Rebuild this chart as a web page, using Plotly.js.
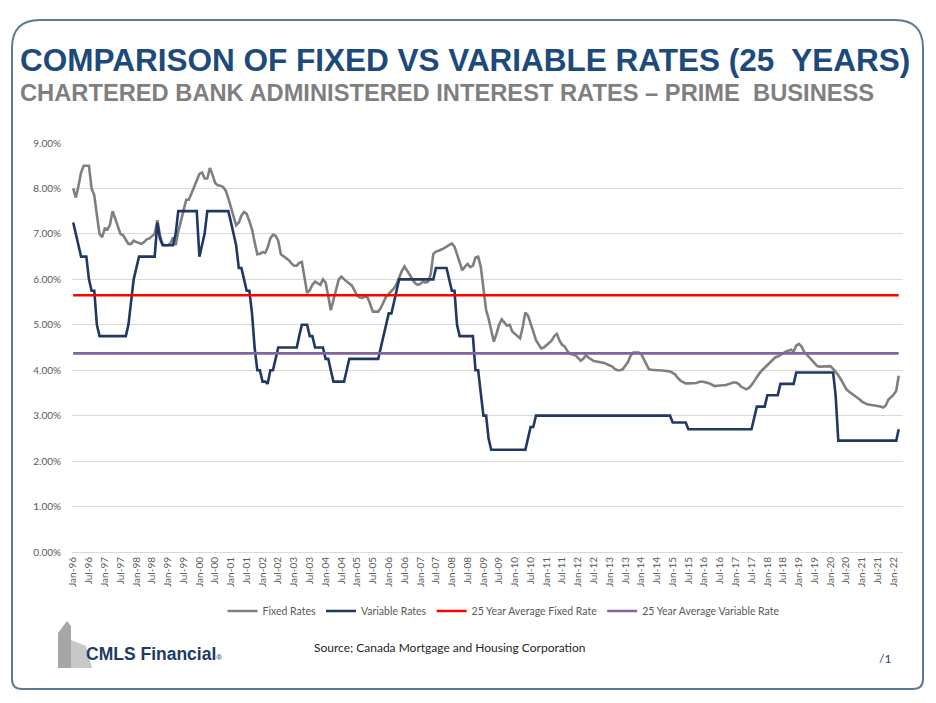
<!DOCTYPE html>
<html>
<head>
<meta charset="utf-8">
<script src="https://cdn.plot.ly/plotly-3.0.1.min.js"></script>
<style>
  html, body { margin: 0; padding: 0; background: #ffffff; }
  #chart { width: 936px; height: 703px; }
</style>
</head>
<body>
<div id="chart"></div>
<script>
// ---------------- DATA ----------------
const startYear = 1996;

const fixedRates = [
  8.0, 7.8, 8.05, 8.35, 8.5, 8.5, 8.5, 8.0, 7.85, 7.42, 7.0, 6.93,
  7.12, 7.1, 7.2, 7.5, 7.35, 7.15, 7.0, 6.97, 6.88, 6.78, 6.78, 6.85,
  6.82, 6.79, 6.78, 6.82, 6.88, 6.9, 6.95, 7.0, 7.3, 6.97, 6.77, 6.75,
  6.75, 6.8, 6.92, 6.75, 7.05, 7.3, 7.5, 7.75, 7.75, 7.9, 8.05, 8.2,
  8.32, 8.35, 8.22, 8.22, 8.45, 8.3, 8.12, 8.07, 8.06, 8.03, 7.95, 7.78,
  7.56, 7.4, 7.19, 7.25, 7.4, 7.48, 7.44, 7.28, 7.1, 6.82, 6.55, 6.56,
  6.6, 6.58, 6.7, 6.9, 6.98, 6.96, 6.85, 6.55, 6.5, 6.46, 6.42, 6.35,
  6.3, 6.3, 6.36, 6.38, 6.05, 5.7, 5.76, 5.88, 5.95, 5.92, 5.88, 6.0,
  5.93, 5.62, 5.32, 5.55, 5.76, 6.0, 6.06, 6.0, 5.95, 5.91, 5.86, 5.75,
  5.64, 5.6, 5.59, 5.62, 5.6, 5.45, 5.29, 5.29, 5.29, 5.37, 5.52, 5.62,
  5.68, 5.74, 5.8, 5.9, 6.06, 6.18, 6.28, 6.2, 6.1, 6.0, 5.92, 5.88,
  5.9, 5.95, 5.93, 5.95, 6.1, 6.56, 6.61, 6.63, 6.65, 6.68, 6.72, 6.75,
  6.79, 6.72, 6.55, 6.38, 6.2, 6.28, 6.34, 6.27, 6.3, 6.48, 6.5, 6.28,
  5.76, 5.32, 5.14, 4.85, 4.63, 4.8, 5.0, 5.12, 5.05, 4.98, 5.0, 4.85,
  4.8, 4.75, 4.7, 4.95, 5.27, 5.2, 5.05, 4.85, 4.66, 4.57, 4.48, 4.5,
  4.55, 4.6, 4.65, 4.75, 4.8, 4.65, 4.56, 4.52, 4.42, 4.36, 4.35, 4.33,
  4.27, 4.21, 4.25, 4.33, 4.28, 4.24, 4.2, 4.19, 4.18, 4.17, 4.16, 4.13,
  4.1, 4.08, 4.03, 4.0, 4.0, 4.02, 4.1, 4.18, 4.32, 4.39, 4.39, 4.39,
  4.36, 4.25, 4.12, 4.02, 4.01, 4.0, 4.0, 4.0, 4.0, 3.99, 3.98, 3.97,
  3.94, 3.9, 3.83, 3.77, 3.74, 3.71, 3.71, 3.71, 3.71, 3.72, 3.74, 3.75,
  3.74, 3.73, 3.71, 3.68, 3.65, 3.66, 3.67, 3.67, 3.67, 3.69, 3.71, 3.73,
  3.73, 3.7, 3.64, 3.6, 3.58, 3.61, 3.67, 3.76, 3.86, 3.93, 4.0, 4.06,
  4.12, 4.18, 4.24, 4.28, 4.3, 4.34, 4.38, 4.41, 4.43, 4.45, 4.41, 4.54,
  4.58, 4.52, 4.41, 4.35, 4.27, 4.21, 4.15, 4.09, 4.08, 4.08, 4.08, 4.08,
  4.09, 4.03, 3.97, 3.89, 3.8, 3.7, 3.59, 3.53, 3.49, 3.45, 3.41, 3.36,
  3.31, 3.27, 3.25, 3.24, 3.23, 3.23, 3.22, 3.2, 3.18, 3.22, 3.35, 3.4,
  3.46, 3.55, 3.88
];

const variableRates = [
  7.25, 7.0, 6.75, 6.5, 6.5, 6.5, 6.0, 5.75, 5.75, 5.0, 4.75, 4.75,
  4.75, 4.75, 4.75, 4.75, 4.75, 4.75, 4.75, 4.75, 4.75, 5.0, 5.5, 6.0,
  6.25, 6.5, 6.5, 6.5, 6.5, 6.5, 6.5, 6.5, 7.25, 6.9, 6.75, 6.75,
  6.75, 6.75, 6.75, 7.0, 7.5, 7.5, 7.5, 7.5, 7.5, 7.5, 7.5, 7.5,
  6.5, 6.75, 7.0, 7.5, 7.5, 7.5, 7.5, 7.5, 7.5, 7.5, 7.5, 7.5,
  7.25, 7.0, 6.75, 6.25, 6.25, 6.0, 5.75, 5.75, 5.25, 4.5, 4.0, 4.0,
  3.75, 3.75, 3.7, 4.0, 4.0, 4.25, 4.5, 4.5, 4.5, 4.5, 4.5, 4.5,
  4.5, 4.5, 4.75, 5.0, 5.0, 5.0, 4.75, 4.75, 4.5, 4.5, 4.5, 4.5,
  4.25, 4.25, 4.0, 3.75, 3.75, 3.75, 3.75, 3.75, 4.0, 4.25, 4.25, 4.25,
  4.25, 4.25, 4.25, 4.25, 4.25, 4.25, 4.25, 4.25, 4.25, 4.5, 4.75, 5.0,
  5.25, 5.25, 5.5, 5.75, 6.0, 6.0, 6.0, 6.0, 6.0, 6.0, 6.0, 6.0,
  6.0, 6.0, 6.0, 6.0, 6.0, 6.0, 6.25, 6.25, 6.25, 6.25, 6.25, 6.0,
  5.75, 5.75, 5.0, 4.75, 4.75, 4.75, 4.75, 4.75, 4.75, 4.0, 4.0, 3.5,
  3.0, 3.0, 2.5, 2.25, 2.25, 2.25, 2.25, 2.25, 2.25, 2.25, 2.25, 2.25,
  2.25, 2.25, 2.25, 2.25, 2.25, 2.5, 2.75, 2.75, 3.0, 3.0, 3.0, 3.0,
  3.0, 3.0, 3.0, 3.0, 3.0, 3.0, 3.0, 3.0, 3.0, 3.0, 3.0, 3.0,
  3.0, 3.0, 3.0, 3.0, 3.0, 3.0, 3.0, 3.0, 3.0, 3.0, 3.0, 3.0,
  3.0, 3.0, 3.0, 3.0, 3.0, 3.0, 3.0, 3.0, 3.0, 3.0, 3.0, 3.0,
  3.0, 3.0, 3.0, 3.0, 3.0, 3.0, 3.0, 3.0, 3.0, 3.0, 3.0, 3.0,
  2.85, 2.85, 2.85, 2.85, 2.85, 2.85, 2.7, 2.7, 2.7, 2.7, 2.7, 2.7,
  2.7, 2.7, 2.7, 2.7, 2.7, 2.7, 2.7, 2.7, 2.7, 2.7, 2.7, 2.7,
  2.7, 2.7, 2.7, 2.7, 2.7, 2.7, 2.7, 2.95, 3.2, 3.2, 3.2, 3.2,
  3.45, 3.45, 3.45, 3.45, 3.45, 3.7, 3.7, 3.7, 3.7, 3.7, 3.7, 3.95,
  3.95, 3.95, 3.95, 3.95, 3.95, 3.95, 3.95, 3.95, 3.95, 3.95, 3.95, 3.95,
  3.95, 3.95, 3.45, 2.45, 2.45, 2.45, 2.45, 2.45, 2.45, 2.45, 2.45, 2.45,
  2.45, 2.45, 2.45, 2.45, 2.45, 2.45, 2.45, 2.45, 2.45, 2.45, 2.45, 2.45,
  2.45, 2.45, 2.7
];

const avgFixedRate = 5.65;
const avgVariableRate = 4.37;

const seriesNames = ["Fixed Rates", "Variable Rates", "25 Year Average Fixed Rate", "25 Year Average Variable Rate"];
const yTickValues = [0, 1, 2, 3, 4, 5, 6, 7, 8, 9];
const yTickLabels = ["0.00%", "1.00%", "2.00%", "3.00%", "4.00%", "5.00%", "6.00%", "7.00%", "8.00%", "9.00%"];

// month categories (first of each month from Jan-1996)
const months = fixedRates.map((_, i) => {
  const y = startYear + Math.floor(i / 12);
  const m = (i % 12) + 1;
  return y + "-" + String(m).padStart(2, "0") + "-01";
});

// ---------------- LAYOUT HELPERS ----------------
const W = 936, H = 703;
const M = { l: 72, r: 33, t: 143, b: 151 };
const PW = W - M.l - M.r, PH = H - M.t - M.b;
const px = x => (x - M.l) / PW;
const py = y => (H - M.b - y) / PH;
const pt = (x, y) => px(x).toFixed(5) + "," + py(y).toFixed(5);

const FONT = "Lato, 'Open Sans', sans-serif";
const ARIAL = "'Liberation Sans', Arial, sans-serif";

const traces = [
  { x: months, y: fixedRates, name: seriesNames[0], type: "scatter", mode: "lines",
    line: { color: "#7f7f7f", width: 2.6 } },
  { x: months, y: variableRates, name: seriesNames[1], type: "scatter", mode: "lines",
    line: { color: "#1f3864", width: 2.6, shape: "linear" } },
  { x: months, y: months.map(() => avgFixedRate), name: seriesNames[2], type: "scatter", mode: "lines",
    line: { color: "#ff0000", width: 2.6 } },
  { x: months, y: months.map(() => avgVariableRate), name: seriesNames[3], type: "scatter", mode: "lines",
    line: { color: "#8064a2", width: 2.6 } }
];

// rounded frame
const L = 12, T = 20, R = 923, B = 689, rr = 28, rb = 10;
const framePath = "M " + pt(L + rr, T) + " L " + pt(R - rr, T) +
  " Q " + pt(R, T) + " " + pt(R, T + rr) +
  " L " + pt(R, B - rb) + " Q " + pt(R, B) + " " + pt(R - rb, B) +
  " L " + pt(L + rb, B) + " Q " + pt(L, B) + " " + pt(L, B - rb) +
  " L " + pt(L, T + rr) + " Q " + pt(L, T) + " " + pt(L + rr, T) + " Z";

// logo building silhouette
const bldgA = "M " + pt(58, 668) + " L " + pt(58, 633) + " L " + pt(67, 621) + " L " + pt(71, 626) +
  " L " + pt(71, 668) + " Z";
const bldgB = "M " + pt(71, 668) + " L " + pt(71, 640) + " L " + pt(86, 646) + " L " + pt(92, 668) + " Z";

const layout = {
  width: W, height: H,
  margin: M,
  paper_bgcolor: "#ffffff",
  plot_bgcolor: "#ffffff",
  showlegend: true,
  legend: {
    orientation: "h", x: px(504), xanchor: "center", y: py(611), yanchor: "middle",
    font: { family: FONT, size: 10.5, color: "#595959" },
    itemwidth: 30, tracegroupgap: 0, bgcolor: "rgba(0,0,0,0)"
  },
  xaxis: {
    type: "date",
    range: ["1995-12-18", "2022-04-20"],
    tick0: "1996-01-01", dtick: "M6", tickformat: "%b-%y",
    tickangle: -90,
    tickfont: { family: FONT, size: 10, color: "#595959" },
    showgrid: false, zeroline: false,
    showline: true, linecolor: "#d9d9d9", linewidth: 1,
    ticks: "", fixedrange: true
  },
  yaxis: {
    range: [0, 9],
    tickmode: "array",
    tickvals: yTickValues,
    ticktext: yTickLabels,
    tickfont: { family: FONT, size: 10, color: "#595959" },
    showgrid: true, gridcolor: "#d9d9d9", gridwidth: 1,
    zeroline: false, showline: false,
    ticks: "outside", ticklen: 8, tickcolor: "rgba(0,0,0,0)",
    fixedrange: true
  },
  shapes: [
    { type: "path", xref: "paper", yref: "paper", path: framePath,
      line: { color: "#5b7a96", width: 2 }, fillcolor: "rgba(0,0,0,0)", layer: "below" },
    { type: "path", xref: "paper", yref: "paper", path: bldgA,
      line: { width: 0 }, fillcolor: "#a6a6a6", layer: "below" },
    { type: "path", xref: "paper", yref: "paper", path: bldgB,
      line: { width: 0 }, fillcolor: "#c8c8c8", layer: "below" }
  ],
  annotations: [
    { xref: "paper", yref: "paper", x: px(18), y: py(60), xanchor: "left", yanchor: "middle",
      showarrow: false, text: "<b>COMPARISON OF FIXED VS VARIABLE RATES (25\u00a0 YEARS)</b>",
      font: { family: ARIAL, size: 31.5, color: "#1c4a7c" } },
    { xref: "paper", yref: "paper", x: px(18), y: py(93), xanchor: "left", yanchor: "middle",
      showarrow: false, text: "<b>CHARTERED BANK ADMINISTERED INTEREST RATES \u2013 PRIME\u00a0 BUSINESS</b>",
      font: { family: ARIAL, size: 23.7, color: "#7f7f7f" } },
    { xref: "paper", yref: "paper", x: px(84), y: py(654), xanchor: "left", yanchor: "middle",
      showarrow: false, text: "<b>CMLS Financial</b><span style=\"font-size:8px\">\u00ae</span>",
      font: { family: ARIAL, size: 17.5, color: "#203a63" } },
    { xref: "paper", yref: "paper", x: px(312), y: py(647), xanchor: "left", yanchor: "middle",
      showarrow: false, text: "Source; Canada Mortgage and Housing Corporation",
      font: { family: FONT, size: 12, color: "#262626" } },
    { xref: "paper", yref: "paper", x: px(877), y: py(658), xanchor: "left", yanchor: "middle",
      showarrow: false, text: "/1",
      font: { family: FONT, size: 12, color: "#1f3864" } }
  ]
};

Plotly.newPlot("chart", traces, layout, { displayModeBar: false, staticPlot: true });
</script>
</body>
</html>
